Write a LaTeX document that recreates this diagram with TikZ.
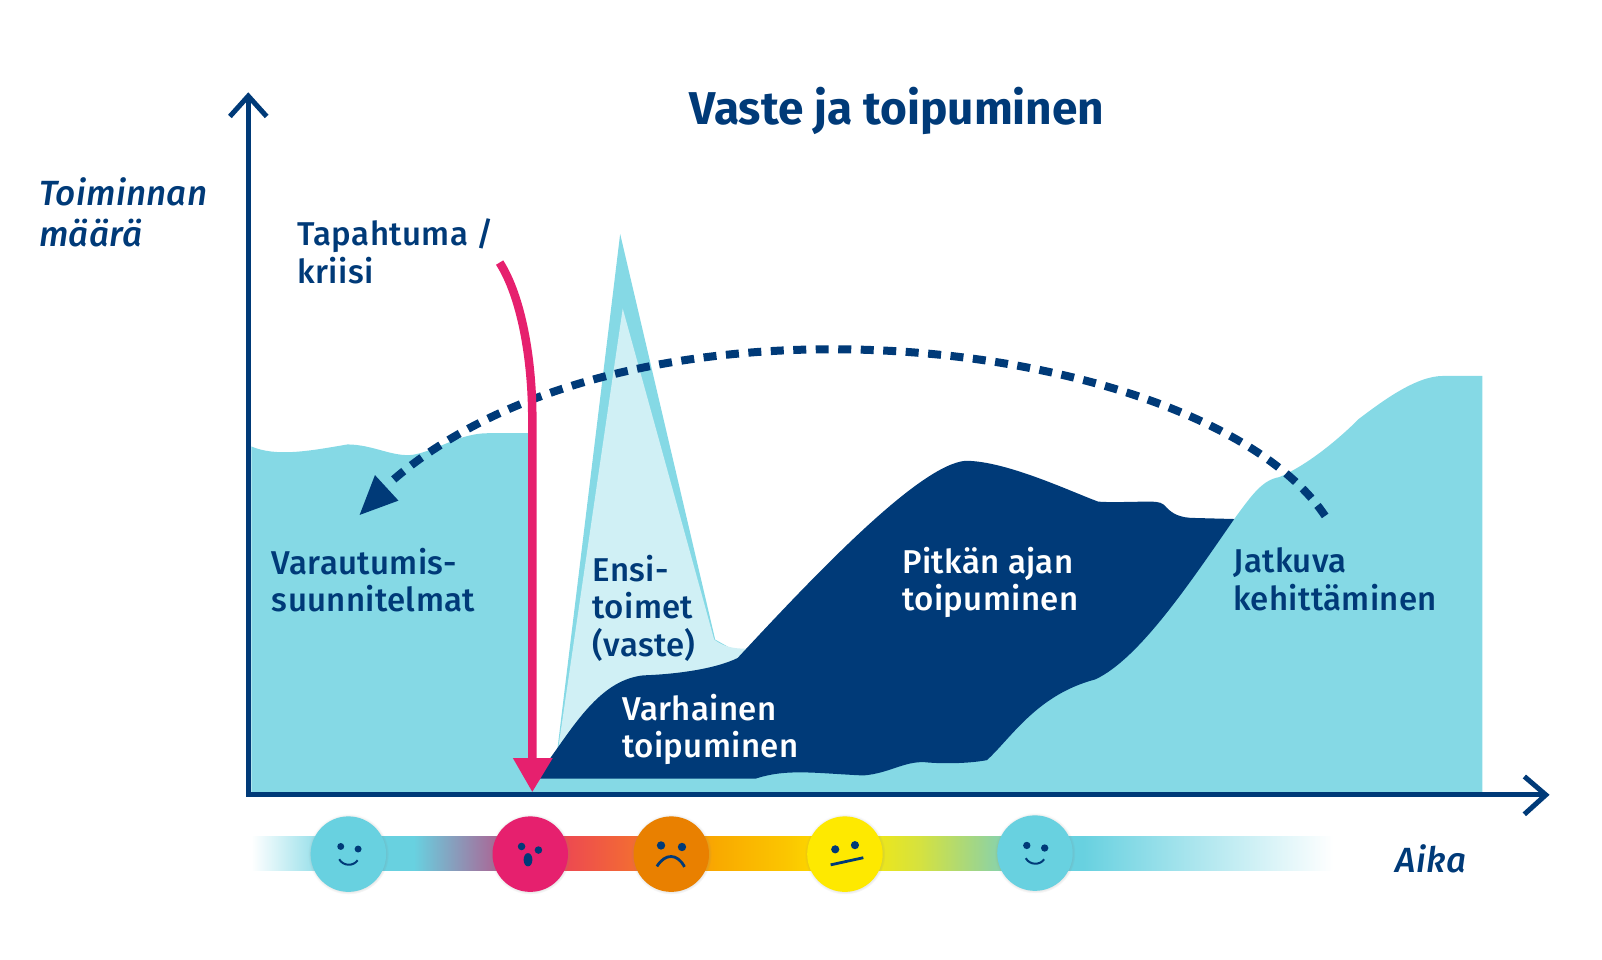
\documentclass[tikz,border=0pt]{standalone}
\usepackage{fontspec}
\setmainfont{Fira Sans}
\newfontfamily\labfont[ItalicFont={Fira Sans Medium Italic},LetterSpace=1]{Fira Sans Medium}
\usetikzlibrary{shadows,fadings}
\definecolor{navy}{HTML}{003A78}
\definecolor{lblue}{HTML}{85D9E5}
\definecolor{pale}{HTML}{D0F0F5}
\definecolor{cpink}{HTML}{E6206E}
\definecolor{corange}{HTML}{E98000}
\definecolor{cyellow}{HTML}{FEE900}
\definecolor{cblue}{HTML}{68D1E0}
\definecolor{barmauve}{HTML}{A56F9C}
\definecolor{barred}{HTML}{ED4A50}
\definecolor{baro}{HTML}{F4712F}
\definecolor{baramb}{HTML}{F9A900}
\definecolor{baryel}{HTML}{FBC600}
\definecolor{barlime}{HTML}{D5E23F}
\definecolor{bargrn}{HTML}{9CD58E}
\pgfdeclarehorizontalshading{barshade}{100bp}{
 color(0bp)=(white); color(25bp)=(white); color(29.44bp)=(cblue); color(32.51bp)=(cblue);
 color(36.05bp)=(barmauve); color(39.59bp)=(barred); color(43.13bp)=(baro);
 color(46.43bp)=(baramb); color(49.74bp)=(baryel); color(52.57bp)=(cyellow);
 color(55.88bp)=(barlime); color(58.71bp)=(bargrn); color(61.21bp)=(cblue);
 color(63.43bp)=(cblue); color(75bp)=(white); color(100bp)=(white)}
\tikzset{
 label/.style={font=\labfont\fontsize{33}{37.5}\selectfont, text=navy, align=left, inner sep=0pt, anchor=north west},
 ital/.style={label, font=\labfont\fontsize{35}{41}\itshape\selectfont},
 axis/.style={draw=navy, line width=5pt, line cap=butt, line join=miter},
 face/.style={circle, minimum size=75.5, inner sep=0pt, circular drop shadow={shadow xshift=0pt, shadow yshift=0pt, shadow scale=1.07, opacity=.35}},
 eye/.style={fill=navy},
 mouth/.style={draw=navy, line width=2pt},
}
\begin{document}
\begin{tikzpicture}[x=1.0217pt,y=-1.0217pt]
\useasboundingbox (0,0) rectangle (1568,939.6);
% areas
\fill[lblue] (246,437) .. controls (270,447) and (300,442) .. (340,435)
  .. controls (365,435) and (385,448) .. (405,445)
  .. controls (430,440) and (450,424) .. (478,424)
  -- (519,424) -- (519,745) -- (960,745) -- (1072,640) -- (1208,508)
  .. controls (1225,485) and (1235,470) .. (1252,467)
  .. controls (1280,455) and (1310,430) .. (1330,410)
  .. controls (1350,395) and (1385,368) .. (1412,368)
  -- (1451,368) -- (1451,776) -- (246,776) -- cycle;
\fill[lblue] (545,738) -- (607,229) -- (700,626) -- (725,640) -- cycle;
\fill[pale] (546,735) -- (609.5,302) -- (699,626)
  .. controls (708,633) and (718,635) .. (732,635) -- (732,660) -- (546,740) -- cycle;
\fill[navy] (525,762) -- (740,762)
  .. controls (770,752) and (800,757) .. (845,759)
  .. controls (870,757) and (885,745) .. (905,746)
  .. controls (925,748) and (950,747) .. (966,744)
  .. controls (990,722) and (1015,680) .. (1072,665)
  .. controls (1115,645) and (1165,570) .. (1208,508)
  -- (1170,507)
  .. controls (1155,507) and (1148,503) .. (1142,497)
  .. controls (1138,492) and (1135,491) .. (1125,491)
  .. controls (1105,491) and (1090,492) .. (1075,491)
  .. controls (1050,482) and (985,451) .. (945,451)
  .. controls (900,455) and (800,560) .. (722,644)
  .. controls (700,655) and (660,660) .. (630,661)
  .. controls (590,665) and (565,705) .. (540,740) -- cycle;
% axes
\coordinate (top) at (243,94);
\coordinate (origin) at (243,778);
\coordinate (right) at (1513,778);
\coordinate (topl) at (225,114);
\coordinate (topr) at (261,114);
\coordinate (rightu) at (1492,760);
\coordinate (rightd) at (1492,797);
\draw[axis] (top) -- (origin) -- (right);
\draw[axis] (topl) -- (top) -- (topr);
\draw[axis] (rightu) -- (right) -- (rightd);
% dashed cycle arrow
\coordinate (cycstart) at (1297,505);
\coordinate (cycend) at (381,473);
\coordinate (cyctip) at (352,504);
\coordinate (cycb) at (367,465);
\coordinate (cycc) at (390,490);
\draw[navy, line width=8pt, dash pattern=on 13pt off 9.5pt] (cycstart)
  .. controls (1180,330) and (620,262) .. (cycend);
\fill[navy] (cyctip) -- (cycb) -- (cycc) -- cycle;
% pink arrow
\coordinate (pstart) at (489,257);
\coordinate (pmid) at (521,410);
\coordinate (pend) at (521,745);
\coordinate (ptip) at (521,775);
\coordinate (pl) at (502,742);
\coordinate (pr) at (541,742);
\draw[cpink, line width=8.5pt] (pstart) .. controls (510,290) and (521,350) .. (pmid) -- (pend);
\fill[cpink] (pl) -- (pr) -- (ptip) -- cycle;
% bar
\shade[shading=barshade] (246,819) rectangle (1305,852);
% faces
\node[face, fill=cblue] (f1) at (341,836) {};
\node[face, fill=cpink] (f2) at (519,836) {};
\node[face, fill=corange] (f3) at (657,836) {};
\node[face, fill=cyellow] (f4) at (827,836) {};
\node[face, fill=cblue] (f5) at (1013,835) {};
\begin{scope}[shift={(f1.center)}]
 \fill[eye] (-7.5,-7.5) circle (3.4); \fill[eye] (9.5,-5) circle (3.4);
 \draw[mouth] (-9,5) .. controls (-5,12) and (5,12) .. (9,6);
\end{scope}
\begin{scope}[shift={(f2.center)}]
 \fill[eye] (-8.5,-7.5) circle (3.7); \fill[eye] (8,-4) circle (3.7);
 \fill[eye] (-2.2,5.5) ellipse (4.3 and 6.5);
\end{scope}
\begin{scope}[shift={(f3.center)}]
 \fill[eye] (-10,-8.5) circle (4.1); \fill[eye] (10.5,-7) circle (4.1);
 \draw[mouth, line width=2.8pt] (-14,12) .. controls (-6,-1) and (6,-1) .. (13,12.5);
\end{scope}
\begin{scope}[shift={(f4.center)}]
 \fill[eye] (-9.5,-4.7) circle (4); \fill[eye] (9.8,-8.8) circle (4);
 \draw[mouth, line width=2.8pt] (-14,10.5) -- (18,3.5);
\end{scope}
\begin{scope}[shift={(f5.center)}]
 \fill[eye] (-8,-7.5) circle (3.6); \fill[eye] (9.5,-5) circle (3.6);
 \draw[mouth] (-9,5) .. controls (-5,12) and (5,12) .. (9,6);
\end{scope}
% text
\node[font=\fontsize{46}{50}\bfseries\selectfont, text=navy, inner sep=0pt] (title) at (878,109) {Vaste ja toipuminen};
\node[ital] (ylab) at (38,174) {Toiminnan\\määrä};
\node[label] (event) at (291,214) {Tapahtuma /\\kriisi};
\node[label] (plans) at (266,536) {Varautumis-\\suunnitelmat};
\node[label] (first) at (580,543) {Ensi-\\toimet\\(vaste)};
\node[label, text=white] (early) at (609,679) {Varhainen\\toipuminen};
\node[label, text=white] (long) at (883,535) {Pitkän ajan\\toipuminen};
\node[label] (cont) at (1207,536) {Jatkuva\\kehittäminen};
\node[ital] (time) at (1366,826) {Aika};
\end{tikzpicture}
\end{document}
